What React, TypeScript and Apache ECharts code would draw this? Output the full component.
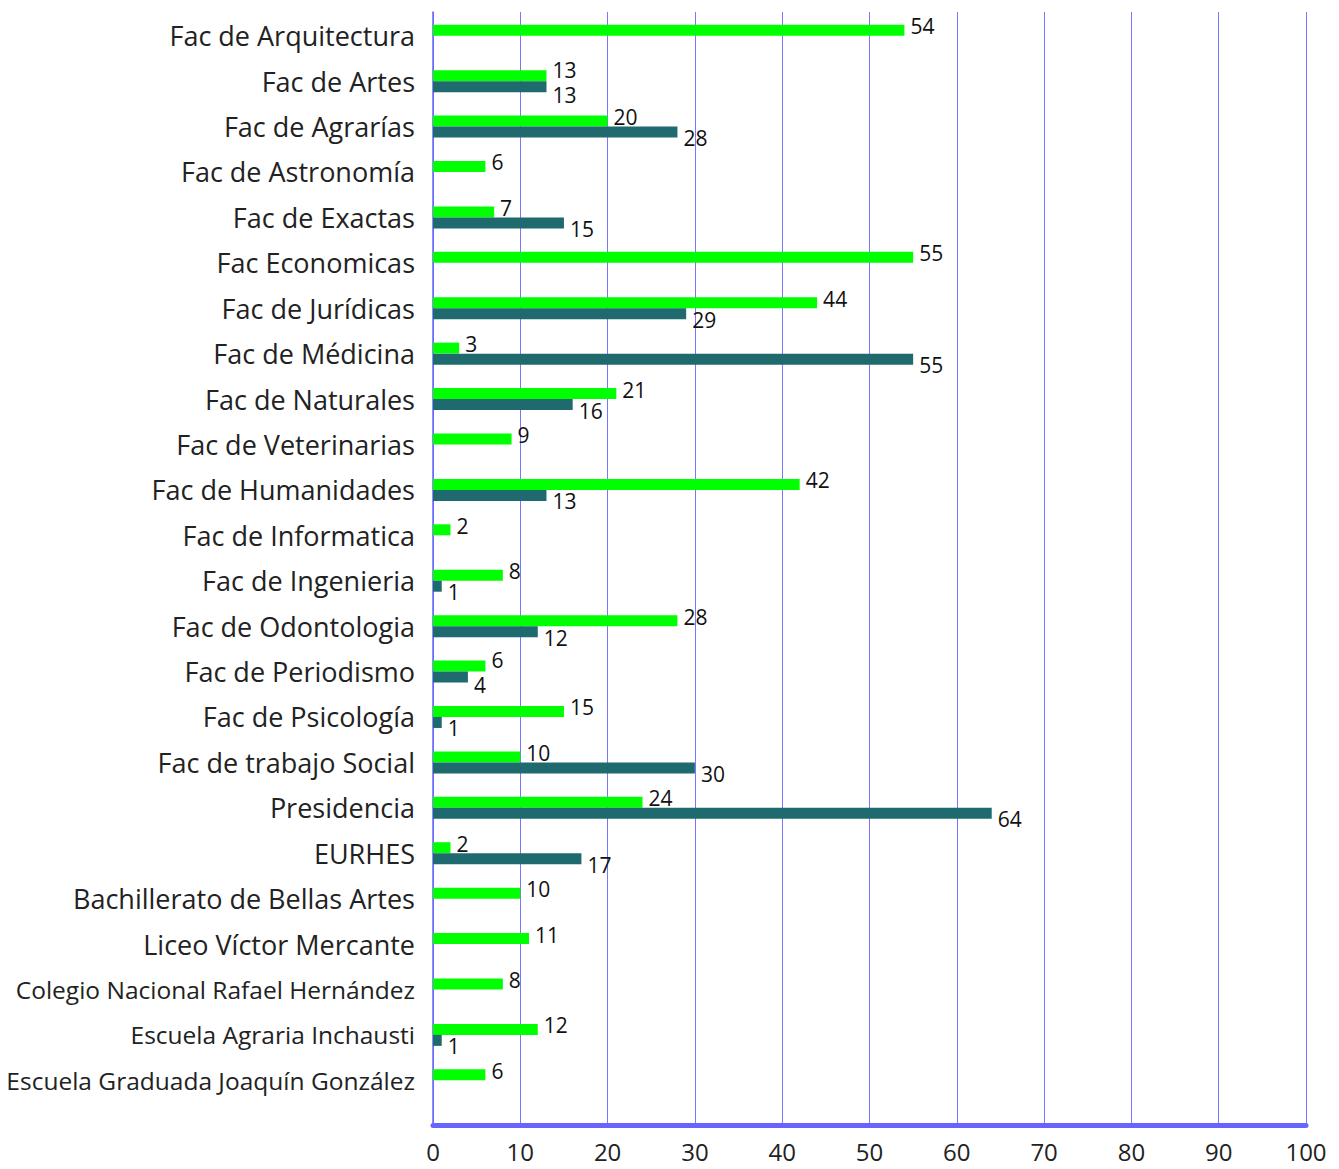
import React, { useEffect, useRef } from "react";
import * as echarts from "echarts";

const categories = [
  "Fac de Arquitectura",
  "Fac de Artes",
  "Fac de Agrarías",
  "Fac de Astronomía",
  "Fac de Exactas",
  "Fac Economicas",
  "Fac de Jurídicas",
  "Fac de Médicina",
  "Fac de Naturales",
  "Fac de Veterinarias",
  "Fac de Humanidades",
  "Fac de Informatica",
  "Fac de Ingenieria",
  "Fac de Odontologia",
  "Fac de Periodismo",
  "Fac de Psicología",
  "Fac de trabajo Social",
  "Presidencia",
  "EURHES",
  "Bachillerato de Bellas Artes",
  "Liceo Víctor Mercante",
  "Colegio Nacional Rafael Hernández",
  "Escuela Agraria Inchausti",
  "Escuela Graduada Joaquín González",
];

const condensedCategories = [
  "Colegio Nacional Rafael Hernández",
  "Escuela Agraria Inchausti",
  "Escuela Graduada Joaquín González",
];

const greenValues = [54, 13, 20, 6, 7, 55, 44, 3, 21, 9, 42, 2, 8, 28, 6, 15, 10, 24, 2, 10, 11, 8, 12, 6];
const tealValues = [null, 13, 28, null, 15, null, 29, 55, 16, null, 13, null, 1, 12, 4, 1, 30, 64, 17, null, null, null, 1, null];

const xTicks = [0, 10, 20, 30, 40, 50, 60, 70, 80, 90, 100];

export default function App() {
  const ref = useRef<HTMLDivElement>(null);
  useEffect(() => {
    if (!ref.current) return;
    const chart = echarts.init(ref.current, undefined, { renderer: "svg" });
    const font = "'Open Sans', 'Noto Sans', sans-serif";
    const catData = categories.map((c) =>
      condensedCategories.includes(c)
        ? { value: c, textStyle: { fontSize: 24.5 } }
        : { value: c }
    );
    // when both labels of a pair are close in x, push them apart a little more
    const greenData = greenValues.map((v, i) => {
      const t = tealValues[i];
      if (t !== null && v !== null && Math.abs(t - v) < 4) {
        return { value: v, label: { offset: [0, -6] } };
      }
      return v;
    });
    const tealData = tealValues.map((v, i) => {
      const g = greenValues[i];
      if (v !== null && g !== null && Math.abs(v - g) < 4) {
        return { value: v, label: { offset: [0, 8] } };
      }
      return v;
    });
    chart.setOption({
      animation: false,
      backgroundColor: "#ffffff",
      grid: [
        { left: 433, right: 33, top: 13, bottom: 66 },
        { left: 433, right: 33, top: 12, bottom: 44 },
      ],
      xAxis: [
        {
          gridIndex: 0,
          type: "value",
          min: xTicks[0],
          max: xTicks[xTicks.length - 1],
          interval: 10,
          show: false,
          splitLine: { show: false },
        },
        {
          gridIndex: 1,
          type: "value",
          min: xTicks[0],
          max: xTicks[xTicks.length - 1],
          interval: 10,
          axisLine: { show: true, lineStyle: { color: "#6666ff", width: 5 } },
          axisTick: { show: false },
          axisLabel: {
            color: "#222222",
            fontSize: 24,
            fontFamily: font,
            margin: 14,
          },
          splitLine: { show: true, lineStyle: { color: "#7777ff", width: 1 } },
        },
      ],
      yAxis: [
        {
          gridIndex: 0,
          type: "category",
          data: catData,
          inverse: true,
          axisLine: { show: false },
          axisTick: { show: false },
          axisLabel: {
            color: "#222222",
            fontSize: 27,
            fontFamily: font,
            margin: 18,
            padding: [0, 0, 3, 0],
          },
        },
        {
          gridIndex: 1,
          type: "value",
          min: 0,
          max: 1,
          axisLine: { show: true, lineStyle: { color: "#6666ff", width: 1.5 } },
          axisTick: { show: false },
          axisLabel: { show: false },
          splitLine: { show: false },
        },
      ],
      series: [
        {
          type: "bar",
          xAxisIndex: 0,
          yAxisIndex: 0,
          data: greenData,
          barWidth: 11,
          barGap: "0%",
          itemStyle: { color: "#00ff00" },
          label: {
            show: true,
            position: "right",
            distance: 6,
            offset: [0, -4],
            color: "#111111",
            fontSize: 21,
            fontFamily: font,
          },
        },
        {
          type: "bar",
          xAxisIndex: 0,
          yAxisIndex: 0,
          data: tealData,
          barWidth: 11,
          barGap: "0%",
          itemStyle: { color: "#1f6a6e" },
          label: {
            show: true,
            position: "right",
            distance: 6,
            offset: [0, 6],
            color: "#111111",
            fontSize: 21,
            fontFamily: font,
          },
        },
      ],
    });
    return () => chart.dispose();
  }, []);
  return <div ref={ref} style={{ width: 1339, height: 1169, position: "absolute", left: 0, top: 0 }} />;
}
